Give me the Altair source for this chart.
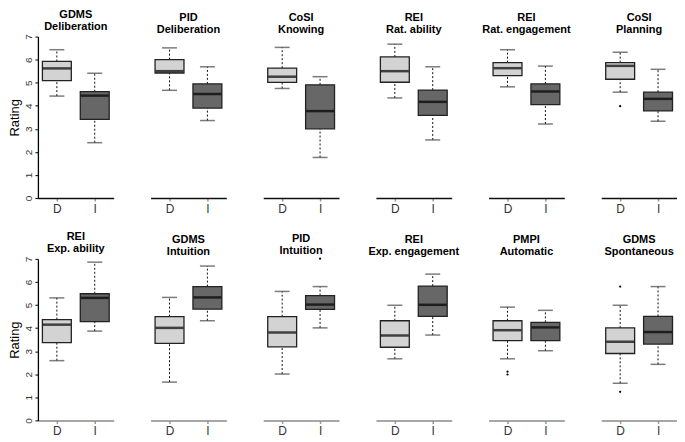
import altair as alt
import pandas as pd

titles_top = ["GDMS", "PID", "CoSI", "REI", "REI", "CoSI",
              "REI", "GDMS", "PID", "REI", "PMPI", "GDMS"]
titles_bottom = ["Deliberation", "Deliberation", "Knowing", "Rat. ability", "Rat. engagement", "Planning",
                 "Exp. ability", "Intuition", "Intuition", "Exp. engagement", "Automatic", "Spontaneous"]

groups = ["D", "I"]

d_low = [4.42, 4.67, 4.75, 4.34, 4.82, 4.59, 2.59, 1.66, 2.01, 2.67, 2.67, 1.61]
d_q1 = [5.09, 5.42, 5.01, 5.02, 5.31, 5.15, 3.37, 3.34, 3.19, 3.17, 3.46, 2.90]
d_med = [5.62, 5.50, 5.26, 5.50, 5.63, 5.73, 4.15, 4.01, 3.81, 3.68, 3.91, 3.41]
d_q3 = [5.92, 6.00, 5.63, 6.12, 5.87, 5.87, 4.37, 4.50, 4.50, 4.32, 4.32, 4.01]
d_high = [6.43, 6.51, 6.53, 6.67, 6.43, 6.32, 5.31, 5.33, 5.59, 4.99, 4.91, 4.99]

i_low = [2.40, 3.36, 1.76, 2.52, 3.21, 3.33, 3.87, 4.32, 4.01, 3.70, 3.02, 2.43]
i_q1 = [3.41, 3.90, 3.00, 3.58, 4.05, 3.78, 4.28, 4.82, 4.81, 4.51, 3.46, 3.31]
i_med = [4.44, 4.51, 3.77, 4.17, 4.62, 4.30, 5.31, 5.33, 5.02, 5.01, 4.03, 3.83]
i_q3 = [4.61, 4.95, 4.91, 4.68, 4.95, 4.59, 5.49, 5.80, 5.41, 5.82, 4.25, 4.51]
i_high = [5.41, 5.69, 5.26, 5.69, 5.72, 5.58, 6.86, 6.69, 5.80, 6.34, 4.77, 5.80]

outlier_panel = [5, 8, 10, 10, 11, 11]
outlier_group = ["D", "I", "D", "D", "D", "D"]
outlier_value = [3.98, 7.01, 2.11, 1.99, 5.80, 1.24]

y_ticks = [0, 1, 2, 3, 4, 5, 6, 7]
fill_colors = ["#d3d3d3", "#676767"]

rows = []
for k in range(12):
    rows.append(dict(panel=k, group="D", low=d_low[k], q1=d_q1[k], med=d_med[k], q3=d_q3[k], high=d_high[k]))
    rows.append(dict(panel=k, group="I", low=i_low[k], q1=i_q1[k], med=i_med[k], q3=i_q3[k], high=i_high[k]))
stats = pd.DataFrame(rows)
outs = pd.DataFrame(dict(panel=outlier_panel, group=outlier_group, value=outlier_value))

FONT = "Liberation Sans"
W, H = 76, 162


def panel(k):
    first = (k % 6 == 0)
    top = k < 6
    df = stats[stats.panel == k]
    od = outs[outs.panel == k]
    xaxis = alt.Axis(title=None, labelAngle=0, labelFontSize=12, labelColor="#333",
                     labelFont=FONT, domainColor="#111" if top else "#8a8a8a", domainWidth=1.5,
                     tickColor="#999", tickSize=3, tickWidth=1.5, labelPadding=2)
    x = alt.X("group:N", scale=alt.Scale(type="point", domain=groups, padding=0.5), axis=xaxis)
    if first:
        yaxis = alt.Axis(title="Rating", values=y_ticks, grid=False, labelAngle=270,
                         labelAlign="center", labelBaseline="bottom", labelFontSize=10,
                         labelOverlap=False, labelFont=FONT, labelColor="#333",
                         tickColor="#000", tickSize=3, labelPadding=1,
                         domainColor="#000", domainWidth=1.3,
                         titleFontSize=13, titleFont=FONT, titleFontWeight="normal",
                         titleColor="#000", titlePadding=2)
    else:
        yaxis = None
    ysc = alt.Scale(domain=[0, 7], nice=False, zero=False)

    def Y(field):
        return alt.Y(field, scale=ysc, axis=yaxis)

    base = alt.Chart(df)
    lower = base.mark_rule(color="#111", strokeDash=[2, 2], strokeWidth=1).encode(
        x=x, y=Y("low:Q"), y2="q1:Q")
    upper = base.mark_rule(color="#111", strokeDash=[2, 2], strokeWidth=1).encode(
        x=x, y=Y("q3:Q"), y2="high:Q")
    cap_lo = base.mark_tick(color="#444", size=15, thickness=1.5).encode(x=x, y=Y("low:Q"))
    cap_hi = base.mark_tick(color="#444", size=15, thickness=1.5).encode(x=x, y=Y("high:Q"))
    box = base.mark_bar(size=29, stroke="#222", strokeWidth=1.3).encode(
        x=x, y=Y("q1:Q"), y2="q3:Q",
        color=alt.Color("group:N", scale=alt.Scale(domain=groups, range=fill_colors), legend=None))
    med = base.mark_tick(color="#000", size=28, thickness=2.5).encode(x=x, y=Y("med:Q"))
    layers = [lower, upper, box, cap_lo, cap_hi, med]
    if len(od):
        pts = alt.Chart(od).mark_circle(color="#000", size=5, opacity=1).encode(
            x=x, y=Y("value:Q"))
        layers.append(pts)
    return alt.layer(*layers).properties(
        width=W, height=H,
        title=alt.TitleParams(text=[titles_top[k], titles_bottom[k]], fontSize=11, fontWeight="bold",
                              font=FONT, lineHeight=12, offset=2, anchor="middle", color="#000"))


chart = alt.concat(*[panel(k) for k in range(12)], columns=6,
                   spacing={"row": 61, "column": 37}, bounds="flush").properties(
    padding={"left": 1, "top": 0, "right": 0, "bottom": 0}
).configure_view(stroke=None)

chart.save("out.html", embed_options={"renderer": "svg", "actions": False})
